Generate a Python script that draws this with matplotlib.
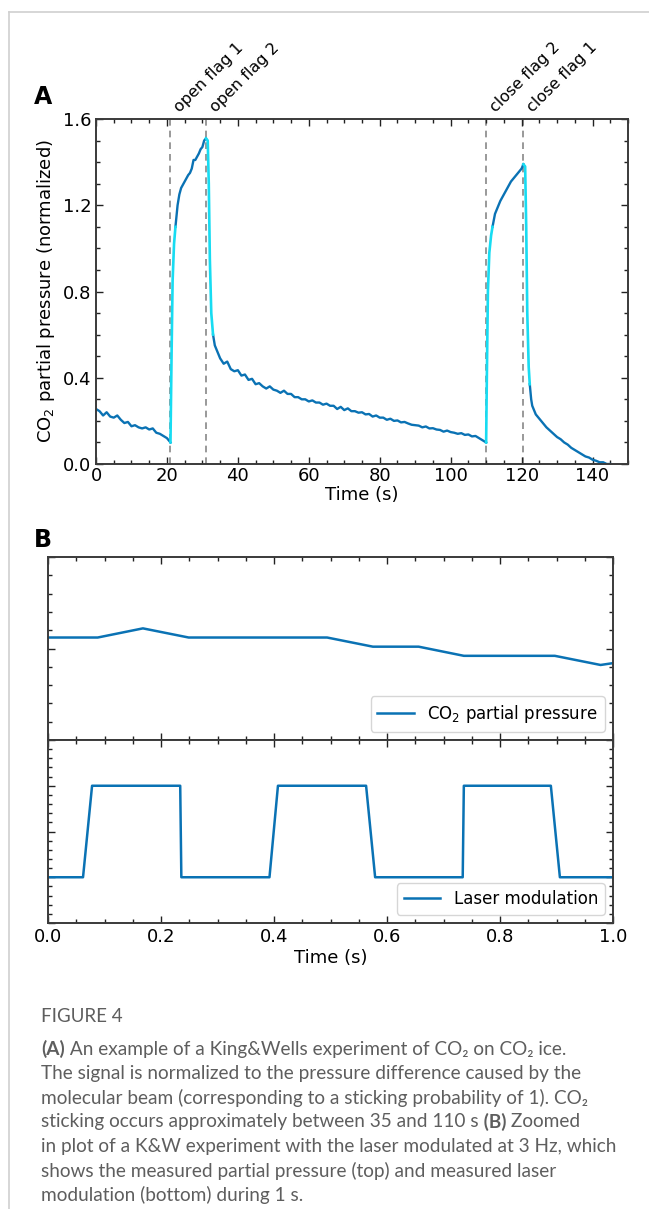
import numpy as np
import matplotlib
matplotlib.use("Agg")
import matplotlib.pyplot as plt
from matplotlib.lines import Line2D
from matplotlib.ticker import MultipleLocator, NullFormatter

# --- panel A: King&Wells run ---
t_pre = [0, 1, 2, 3, 4, 5, 6, 7, 8, 9, 10, 11, 12, 13, 14, 15, 16, 17, 18, 19, 20, 21]
p_pre = [0.255, 0.245, 0.225, 0.24, 0.22, 0.215, 0.225, 0.205, 0.19, 0.195, 0.175, 0.18,
         0.17, 0.165, 0.17, 0.16, 0.165, 0.145, 0.14, 0.13, 0.12, 0.10]
t_rise1 = [21.0, 21.3, 21.6, 22.0, 22.4]
p_rise1 = [0.10, 0.50, 0.85, 1.02, 1.10]
t_top1 = [22.4, 23, 23.5, 24, 25, 26, 26.5, 27, 27.5, 28, 29, 29.5, 30, 30.5, 31]
p_top1 = [1.10, 1.20, 1.25, 1.28, 1.31, 1.34, 1.35, 1.37, 1.41, 1.41, 1.44, 1.46, 1.47, 1.50, 1.51]
t_fall1 = [31.0, 31.5, 31.8, 32.1, 32.5, 33.0]
p_fall1 = [1.51, 1.50, 1.30, 0.95, 0.70, 0.60]
t_mid = [33, 33.5, 34, 35, 36, 37, 38, 39, 40, 41, 42, 43, 44, 45, 46, 47, 48, 49, 50,
         51, 52, 53, 54, 55, 56, 57, 58, 59, 60, 61, 62, 63, 64, 65, 66, 67, 68, 69, 70,
         71, 72, 73, 74, 75, 76, 77, 78, 79, 80, 81, 82, 83, 84, 85, 86, 87, 88, 89, 90,
         91, 92, 93, 94, 95, 96, 97, 98, 99, 100, 101, 102, 103, 104, 105, 106, 107, 108,
         109, 110]
p_mid = [0.60, 0.55, 0.53, 0.49, 0.465, 0.475, 0.44, 0.43, 0.435, 0.41, 0.415, 0.39,
         0.395, 0.37, 0.375, 0.36, 0.35, 0.36, 0.345, 0.34, 0.33, 0.34, 0.325, 0.325,
         0.31, 0.31, 0.30, 0.30, 0.29, 0.295, 0.285, 0.285, 0.275, 0.28, 0.27, 0.27,
         0.255, 0.265, 0.25, 0.258, 0.245, 0.245, 0.238, 0.24, 0.23, 0.232, 0.22, 0.225,
         0.215, 0.215, 0.205, 0.21, 0.20, 0.202, 0.193, 0.195, 0.188, 0.182, 0.18,
         0.178, 0.17, 0.174, 0.165, 0.166, 0.16, 0.158, 0.15, 0.155, 0.148, 0.145, 0.14,
         0.143, 0.135, 0.137, 0.128, 0.13, 0.12, 0.11, 0.10]
t_rise2 = [110.0, 110.2, 110.5, 110.9, 111.4, 111.8]
p_rise2 = [0.10, 0.40, 0.80, 0.98, 1.06, 1.10]
t_top2 = [111.8, 112.5, 113, 114, 115, 116, 117, 118, 119, 120, 120.5]
p_top2 = [1.10, 1.16, 1.18, 1.22, 1.25, 1.28, 1.31, 1.33, 1.35, 1.37, 1.39]
t_fall2 = [120.5, 121.0, 121.3, 121.6, 122.0, 122.3]
p_fall2 = [1.39, 1.38, 1.10, 0.70, 0.45, 0.37]
t_post = [122.3, 122.7, 123, 124, 125, 126, 127, 128, 129, 130, 131, 132, 133, 134, 135,
          136, 137, 138, 139, 140, 141, 142, 143, 144, 145]
p_post = [0.37, 0.30, 0.27, 0.23, 0.21, 0.19, 0.17, 0.155, 0.14, 0.125, 0.115, 0.10,
          0.09, 0.075, 0.065, 0.055, 0.045, 0.035, 0.03, 0.02, 0.015, 0.008, 0.008, 0.0, 0.0]

flag_t = [21.0, 31.0, 110.0, 120.3]
flag_names = ["open flag 1", "open flag 2", "close flag 2", "close flag 1"]

# --- panel B: 1 s zoom, arbitrary units ---
tb_p = [0.0, 0.088, 0.168, 0.249, 0.33, 0.41, 0.494, 0.575, 0.656, 0.736, 0.817, 0.897, 0.978, 1.0]
pb_p = [5.6, 5.6, 6.1, 5.6, 5.6, 5.6, 5.6, 5.1, 5.1, 4.6, 4.6, 4.6, 4.1, 4.2]
tb_l = [0.0, 0.062, 0.078, 0.234, 0.236, 0.392, 0.407, 0.563, 0.579, 0.734, 0.736, 0.89, 0.906, 1.0]
lb_l = [5, 5, 15, 15, 5, 5, 15, 15, 5, 5, 15, 15, 5, 5]

dark = "#0a72b4"
cyan = "#17dcf2"
W, H = 649, 1209

plt.rcParams["font.size"] = 13
plt.rcParams["xtick.direction"] = "in"
plt.rcParams["ytick.direction"] = "in"

fig = plt.figure(figsize=(W / 100, H / 100), dpi=100)


def box(l, t, r, b):
    return [l / W, 1 - b / H, (r - l) / W, (b - t) / H]


def style(ax):
    ax.tick_params(which="both", top=True, right=True, colors="#222222", labelcolor="black")
    ax.tick_params(which="major", length=5, width=1)
    ax.tick_params(which="minor", length=3, width=1)
    for s in ax.spines.values():
        s.set_linewidth(1.4)
        s.set_color("#3a3a3a")


# panel A
axA = fig.add_axes(box(96, 119, 628, 464))
for x in flag_t:
    axA.axvline(x, color="#888888", ls="--", lw=1.2, dashes=(4, 3), zorder=1)
axA.plot(t_pre, p_pre, color=dark, lw=1.7)
axA.plot(t_top1, p_top1, color=dark, lw=1.7)
axA.plot(t_mid, p_mid, color=dark, lw=1.7)
axA.plot(t_top2, p_top2, color=dark, lw=1.7)
axA.plot(t_post, p_post, color=dark, lw=1.7)
for tt, pp in [(t_rise1, p_rise1), (t_fall1, p_fall1), (t_rise2, p_rise2), (t_fall2, p_fall2)]:
    axA.plot(tt, pp, color=cyan, lw=1.9)
axA.set_xlim(0, 150)
axA.set_ylim(0, 1.6)
axA.xaxis.set_major_locator(MultipleLocator(20))
axA.xaxis.set_minor_locator(MultipleLocator(5))
axA.yaxis.set_major_locator(MultipleLocator(0.4))
axA.yaxis.set_minor_locator(MultipleLocator(0.1))
axA.yaxis.set_major_formatter(matplotlib.ticker.FormatStrFormatter("%.1f"))
style(axA)
axA.tick_params(axis="x", pad=2)
axA.set_xlabel("Time (s)", labelpad=1)
axA.set_ylabel("CO$_2$ partial pressure (normalized)")
for x, name in zip(flag_t, flag_names):
    axA.annotate(name, xy=(x, 1.6), xytext=(1, 3), textcoords="offset points",
                 rotation=45, ha="left", va="bottom", fontsize=11.5)

# panel B
axB1 = fig.add_axes(box(48, 557, 613, 740))
axB2 = fig.add_axes(box(48, 740, 613, 923), sharex=axB1)
axB1.plot(tb_p, pb_p, color=dark, lw=1.8, label="CO$_2$ partial pressure")
axB2.plot(tb_l, lb_l, color=dark, lw=1.8, label="Laser modulation")
axB1.set_xlim(0, 1)
axB1.set_ylim(0, 10)
axB2.set_ylim(0, 20)
axB1.yaxis.set_major_locator(MultipleLocator(5))
axB1.yaxis.set_minor_locator(MultipleLocator(1))
axB2.yaxis.set_major_locator(MultipleLocator(5))
axB2.yaxis.set_minor_locator(MultipleLocator(1))
axB2.xaxis.set_major_locator(MultipleLocator(0.2))
axB2.xaxis.set_minor_locator(MultipleLocator(0.05))
for ax in (axB1, axB2):
    style(ax)
    ax.yaxis.set_major_formatter(NullFormatter())
    ax.legend(loc="lower right", fontsize=12, handlelength=2.2)
axB1.tick_params(axis="x", labelbottom=False)
axB2.xaxis.set_major_formatter(matplotlib.ticker.FormatStrFormatter("%.1f"))
axB2.set_xlabel("Time (s)", labelpad=2)

# panel letters
fig.text(34 / W, 1 - 97 / H, "A", fontsize=17, fontweight="bold", va="center")
fig.text(34 / W, 1 - 540 / H, "B", fontsize=17, fontweight="bold", va="center")

# page frame
fig.add_artist(Line2D([9 / W, 9 / W], [0, 1 - 12 / H], color="#d0d0d0", lw=1.2))
fig.add_artist(Line2D([9 / W, 1], [1 - 12 / H, 1 - 12 / H], color="#d0d0d0", lw=1.2))

# caption
cap_col = "#5e5e5e"
cap_font = ["Lato", "DejaVu Sans"]
fig.text(41 / W, 1 - 1017 / H, "FIGURE 4", fontsize=13.5, color=cap_col,
         family=cap_font, va="center")
cap_lines = [
    [("(A)", "bold"), (" An example of a King&Wells experiment of CO₂ on CO₂ ice.", "normal")],
    [("The signal is normalized to the pressure difference caused by the", "normal")],
    [("molecular beam (corresponding to a sticking probability of 1). CO₂", "normal")],
    [("sticking occurs approximately between 35 and 110 s", "normal"), (" (B)", "bold"),
     (" Zoomed", "normal")],
    [("in plot of a K&W experiment with the laser modulated at 3 Hz, which", "normal")],
    [("shows the measured partial pressure (top) and measured laser", "normal")],
    [("modulation (bottom) during 1 s.", "normal")],
]
renderer = fig.canvas.get_renderer()
y0 = 1049
for i, pieces in enumerate(cap_lines):
    x = 41 / W
    y = 1 - (y0 + i * 24.3) / H
    for s, w in pieces:
        t = fig.text(x, y, s, fontsize=13.7, color=cap_col, family=cap_font,
                     fontweight=w, va="center")
        x += t.get_window_extent(renderer).width / W

fig.savefig("out.png", dpi=100)
